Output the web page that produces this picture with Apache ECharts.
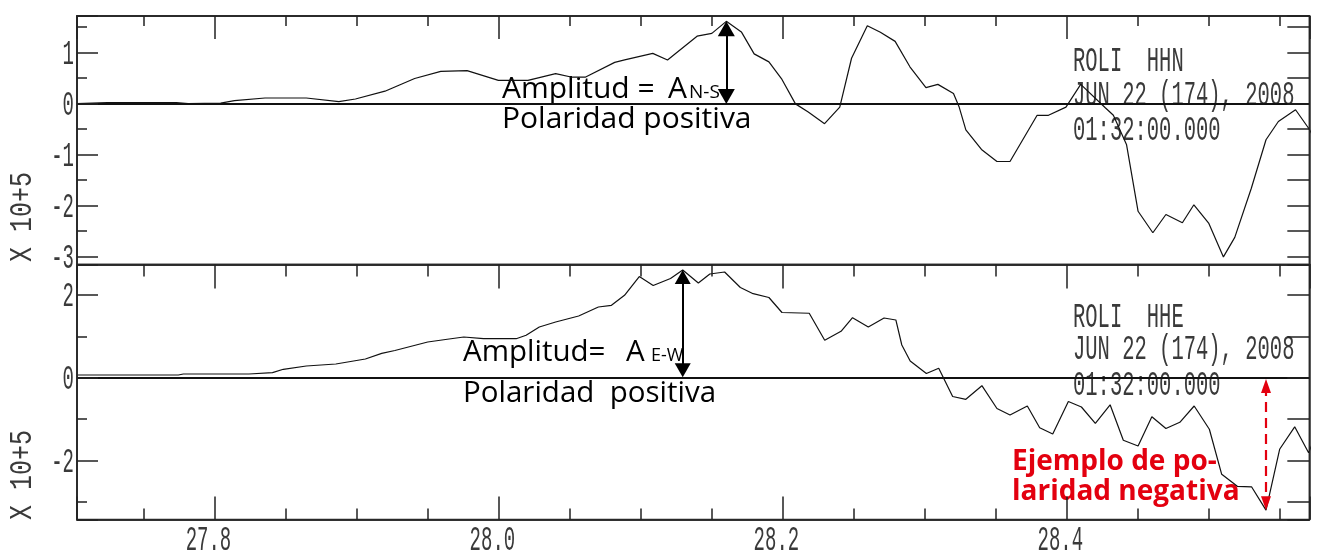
<!DOCTYPE html>
<html>
<head>
<meta charset="utf-8">
<script src="https://cdn.jsdelivr.net/npm/echarts@6/dist/echarts.min.js"></script>
<style>
html, body { margin: 0; padding: 0; background: #fff; }
#chart { width: 1343px; height: 553px; }
</style>
</head>
<body>
<div id="chart"></div>
<script>
// componente HHN (N-S): tiempo (s) y amplitud (x 10^5)
var timeNS = [27.7032, 27.7246, 27.7732, 27.7815, 27.8044, 27.8141, 27.8356, 27.8647, 27.8876, 27.8993,
  27.9201, 27.9410, 27.9594, 27.9779, 28.0000, 28.0208, 28.0403, 28.0519, 28.0611, 28.0819,
  28.0889, 28.1087, 28.1191, 28.1399, 28.1503, 28.1605, 28.1711, 28.1801, 28.1905, 28.1997,
  28.2092, 28.2182, 28.2297, 28.2404, 28.2487, 28.2598, 28.2690, 28.2794, 28.2898, 28.3011,
  28.3095, 28.3205, 28.3245, 28.3292, 28.3402, 28.3511, 28.3603, 28.3794, 28.3874, 28.3997,
  28.4101, 28.4274, 28.4331, 28.4424, 28.4505, 28.4609, 28.4701, 28.4817, 28.4898, 28.5002,
  28.5106, 28.5186, 28.5302, 28.5406, 28.5493, 28.5614, 28.5711, 28.5787];
var ampNS = [0, 0.02, 0.02, 0, 0.01, 0.057, 0.109, 0.109, 0.038, 0.09,
  0.243, 0.492, 0.632, 0.646, 0.454, 0.454, 0.588, 0.517, 0.517, 0.808,
  0.856, 0.985, 0.856, 1.322, 1.377, 1.613, 1.406, 0.975, 0.818, 0.473,
  -0.006, -0.165, -0.395, -0.069, 0.889, 1.527, 1.398, 1.220, 0.722, 0.314,
  0.377, 0.199, -0.069, -0.517, -0.900, -1.136, -1.136, -0.230, -0.230, -0.069,
  0.377, -0.082, -0.230, -0.810, -2.113, -2.534, -2.176, -2.337, -1.985, -2.343,
  -3.008, -2.625, -1.667, -0.709, -0.351, -0.121, -0.504, -0.900];

// componente HHE (E-W)
var timeEW = [27.7032, 27.7746, 27.7781, 27.8243, 27.8409, 27.8485, 27.8647, 27.8855, 27.9063, 27.9178,
  27.9271, 27.9502, 27.9640, 27.9756, 27.9895, 28.0125, 28.0195, 28.0288, 28.0403, 28.0565,
  28.0704, 28.0796, 28.0888, 28.0992, 28.1090, 28.1212, 28.1298, 28.1408, 28.1489, 28.1593,
  28.1704, 28.1794, 28.1905, 28.1997, 28.2189, 28.2298, 28.2413, 28.2494, 28.2605, 28.2716,
  28.2799, 28.2841, 28.2900, 28.3014, 28.3101, 28.3199, 28.3292, 28.3405, 28.3511, 28.3603,
  28.3725, 28.3812, 28.3904, 28.4014, 28.4106, 28.4204, 28.4308, 28.4401, 28.4505, 28.4602,
  28.4701, 28.4799, 28.4900, 28.5007, 28.5094, 28.5204, 28.5304, 28.5406, 28.5502, 28.5608,
  28.5706, 28.5787];
var ampEW = [0.065, 0.065, 0.089, 0.089, 0.121, 0.203, 0.283, 0.331, 0.452, 0.589,
  0.657, 0.862, 0.928, 0.983, 0.942, 0.942, 1.024, 1.225, 1.345, 1.490,
  1.708, 1.749, 1.990, 2.444, 2.227, 2.396, 2.601, 2.287, 2.505, 2.553,
  2.179, 2.029, 1.937, 1.575, 1.556, 0.906, 1.121, 1.449, 1.225, 1.442,
  1.394, 0.790, 0.403, 0.101, 0.229, -0.454, -0.522, -0.193, -0.744, -0.901,
  -0.684, -1.208, -1.360, -0.575, -0.708, -1.106, -0.655, -1.510, -1.650, -0.944,
  -1.227, -1.077, -0.684, -1.246, -2.333, -2.623, -2.635, -3.200, -1.729, -1.186,
  -1.812, -1.126];

// tick labels
var xLabels = [27.8, 28.0, 28.2, 28.4];
var yLabelsNS = [-3, -2, -1, 0, 1];
var yLabelsEW = [-2, 0, 2];

var xRange = [27.7032, 28.5711];
var yRangeNS = [-3.157, 1.718];
var yRangeEW = [-3.425, 2.734];

var station = ['ROLI  HHN', 'ROLI  HHE'];
var dateLines = ['JUN 22 (174), 2008', '01:32:00.000'];

var frameColor = '#2a2a2a';
var monoFont = '"Liberation Mono", "DejaVu Sans Mono", monospace';
var textFont = '"Open Sans", "Noto Sans", sans-serif';

function zip(t, v) {
  return t.map(function (x, i) { return [x, v[i]]; });
}

// tick axes; no explicit interval, splitNumber picks the nice step (0.2 / 0.05, 1 / 0.5, 2 / 1).
// their own labels stay transparent, the visible ones are drawn below in the plotter font
function axisBase(grid, pos, range, split, len) {
  return {
    type: 'value', gridIndex: grid, position: pos, min: range[0], max: range[1], splitNumber: split,
    z: 10,
    axisLine: { show: true, onZero: false, lineStyle: { color: frameColor, width: 1.5 } },
    axisTick: { show: true, inside: true, length: len, lineStyle: { color: '#222', width: 1.5 } },
    axisLabel: { show: true, color: 'rgba(0,0,0,0)', fontSize: 8, hideOverlap: false },
    splitLine: { show: false }
  };
}

function arrow(t, v0, v1, size, style) {
  return [
    { coord: [t, v0], symbol: 'triangle', symbolSize: size, lineStyle: style },
    { coord: [t, v1], symbol: 'triangle', symbolSize: size }
  ];
}

// stretched plotter-style text (narrow mono glyphs made taller)
function plotText(x, y, s, size, sy, align) {
  return {
    type: 'text', x: x, y: y, scaleY: sy, silent: true,
    style: { text: s, fill: '#3a3a3a', font: size + 'px ' + monoFont,
      align: align || 'left', verticalAlign: 'middle' }
  };
}

var zeroStyle = { color: '#111', width: 1.8, type: 'solid' };
var blackArrow = { color: '#000', width: 2, type: 'solid' };
var redArrow = { color: '#e3000f', width: 2.2, type: [10, 6] };

function traceSeries(xi, yi, t, v, marks) {
  return {
    type: 'line', xAxisIndex: xi, yAxisIndex: yi,
    data: zip(t, v), showSymbol: false, symbol: 'none', clip: false,
    lineStyle: { color: '#111', width: 1.2 },
    markLine: { silent: true, symbol: 'none', label: { show: false }, data: marks }
  };
}

var chart = echarts.init(document.getElementById('chart'));

chart.setOption({
  animation: false,
  grid: [
    { left: 77, top: 10, width: 1252, height: 254.5, show: true, backgroundColor: 'transparent',
      borderColor: frameColor, borderWidth: 1.5 },
    { left: 77, top: 264.5, width: 1252, height: 255, show: true, backgroundColor: 'transparent',
      borderColor: frameColor, borderWidth: 1.5 }
  ],
  xAxis: [
    axisBase(0, 'top', xRange, 4, 23),
    axisBase(0, 'top', xRange, 17, 10),
    axisBase(1, 'top', xRange, 4, 24),
    axisBase(1, 'top', xRange, 17, 12),
    axisBase(1, 'bottom', xRange, 4, 23),
    axisBase(1, 'bottom', xRange, 17, 11)
  ],
  yAxis: [
    axisBase(0, 'left', yRangeNS, 5, 21),
    axisBase(0, 'left', yRangeNS, 10, 10),
    axisBase(0, 'right', yRangeNS, 10, 22),
    axisBase(1, 'left', yRangeEW, 3, 21),
    axisBase(1, 'left', yRangeEW, 6, 10),
    axisBase(1, 'right', yRangeEW, 6, 22)
  ],
  series: [
    traceSeries(0, 0, timeNS, ampNS, [
      { yAxis: 0, lineStyle: zeroStyle },
      arrow(28.1605, 0.14, 1.47, [17, 15], blackArrow)
    ]),
    traceSeries(4, 3, timeEW, ampEW, [
      { yAxis: 0, lineStyle: zeroStyle },
      arrow(28.1298, 0.18, 2.43, [16, 14], blackArrow),
      arrow(28.5406, -0.2, -3.03, [10, 14], redArrow)
    ])
  ]
});

// tick labels and annotations, tick labels placed through the axes' own scales
var g = [];
xLabels.forEach(function (v) {
  g.push(plotText(chart.convertToPixel({ xAxisIndex: 4 }, v) - 6, 541, v.toFixed(1), 19, 1.85, 'center'));
});
yLabelsNS.forEach(function (v) {
  g.push(plotText(74, chart.convertToPixel({ yAxisIndex: 0 }, v) + 2.2, String(v), 19, 1.85, 'right'));
});
yLabelsEW.forEach(function (v) {
  g.push(plotText(74, chart.convertToPixel({ yAxisIndex: 3 }, v) + 2.2, String(v), 19, 1.85, 'right'));
});

[217, 475].forEach(function (cy) {
  g.push({ type: 'text', x: 23, y: cy, rotation: Math.PI / 2, scaleY: 1.25, silent: true,
    style: { text: 'X 10+5', fill: '#3a3a3a', font: '25px ' + monoFont, align: 'center', verticalAlign: 'middle' } });
});

[[61.6, 95.6, 131.1], [318.1, 350.1, 386.1]].forEach(function (ys, k) {
  [station[k]].concat(dateLines).forEach(function (s, i) {
    g.push(plotText(1073, ys[i], s, 20.5, 1.7, 'left'));
  });
});

function label(x, y, s, font, color) {
  return { type: 'text', x: x, y: y, silent: true,
    style: { text: s, fill: color || '#000', font: font, verticalAlign: 'middle' } };
}
g.push(label(502, 89.5, 'Amplitud =', '30px ' + textFont));
g.push(label(668, 89.5, 'A', '30px ' + textFont));
g.push(label(689, 93, 'N-S', '19px ' + textFont));
g.push(label(502, 119, 'Polaridad positiva', '30px ' + textFont));
g.push(label(463, 352.5, 'Amplitud=', '29.5px ' + textFont));
g.push(label(626, 352.5, 'A', '29.5px ' + textFont));
g.push(label(651, 355.5, 'E-W', '18px ' + textFont));
g.push(label(463, 394, 'Polaridad  positiva', '29.5px ' + textFont));
g.push(label(1012, 462, 'Ejemplo de po-', 'bold 28px ' + textFont, '#e3000f'));
g.push(label(1012, 492, 'laridad negativa', 'bold 28px ' + textFont, '#e3000f'));

chart.setOption({ graphic: g });
</script>
</body>
</html>
